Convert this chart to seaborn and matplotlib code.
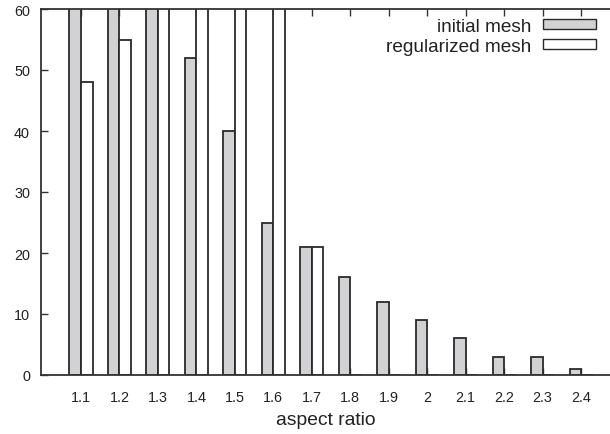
import matplotlib
matplotlib.use("Agg")
import matplotlib.pyplot as plt
from matplotlib.patches import Patch
import seaborn as sns
import pandas as pd

categories = ["1.1", "1.2", "1.3", "1.4", "1.5", "1.6", "1.7",
              "1.8", "1.9", "2", "2.1", "2.2", "2.3", "2.4"]
initial_mesh = [75, 90, 70, 52, 40, 25, 21, 16, 12, 9, 6, 3, 3, 1]
regularized_mesh = [48, 55, 66, 80, 85, 70, 21, 0, 0, 0, 0, 0, 0, 0]
series_names = ["initial mesh", "regularized mesh"]
y_ticks = [0, 10, 20, 30, 40, 50, 60]

df = pd.DataFrame({
    "aspect ratio": categories * 2,
    "count": initial_mesh + regularized_mesh,
    "series": [series_names[0]] * len(categories) + [series_names[1]] * len(categories),
})

sns.set_theme(style="white")
plt.rcParams["font.family"] = ["Liberation Sans", "DejaVu Sans"]

fig = plt.figure(figsize=(6.1, 4.35), dpi=100)
ax = fig.add_axes([41 / 610, 59 / 435, 1 - 41 / 610, 366 / 435])

fill = {"initial mesh": "#d2d2d4", "regularized mesh": "#ffffff"}
edge = "#2a2a2a"
sns.barplot(data=df, x="aspect ratio", y="count", hue="series", order=categories,
            hue_order=series_names, palette=fill, width=0.6, edgecolor=edge,
            linewidth=1.3, saturation=1, legend=False, ax=ax)

ax.set_xlim(-1.04, 13.75)
ax.set_ylim(0, 60)
ax.set_yticks(y_ticks)
ax.set_yticklabels([str(v) for v in y_ticks])

for s in ["left", "top", "bottom"]:
    ax.spines[s].set_visible(True)
    ax.spines[s].set_color("#333333")
    ax.spines[s].set_linewidth(1.3)
ax.spines["right"].set_visible(False)

ax.tick_params(axis="y", direction="in", length=5, width=1, color="#333333",
               labelsize=10.4, labelcolor="#222222", pad=8, left=True)
ax.tick_params(axis="x", direction="in", length=5, width=1, color="#333333",
               labelsize=10.4, labelcolor="#222222", pad=11, bottom=True, top=True)

ax.set_xlabel("aspect ratio", fontsize=13.9, color="#222222", labelpad=5)
ax.set_ylabel("")

handles = [Patch(facecolor=fill[n], edgecolor=edge, linewidth=1.0) for n in series_names]
leg = ax.legend(handles=handles, labels=series_names, loc="upper right",
                bbox_to_anchor=((596 - 41) / 569, 1 - 9 / 366), borderaxespad=0,
                frameon=False, markerfirst=False, fontsize=13.7, handlelength=2.8,
                handleheight=0.45, handletextpad=0.6, labelspacing=0.15,
                borderpad=0)
for t in leg.get_texts():
    t.set_color("#222222")

fig.savefig("out.png", dpi=100)
